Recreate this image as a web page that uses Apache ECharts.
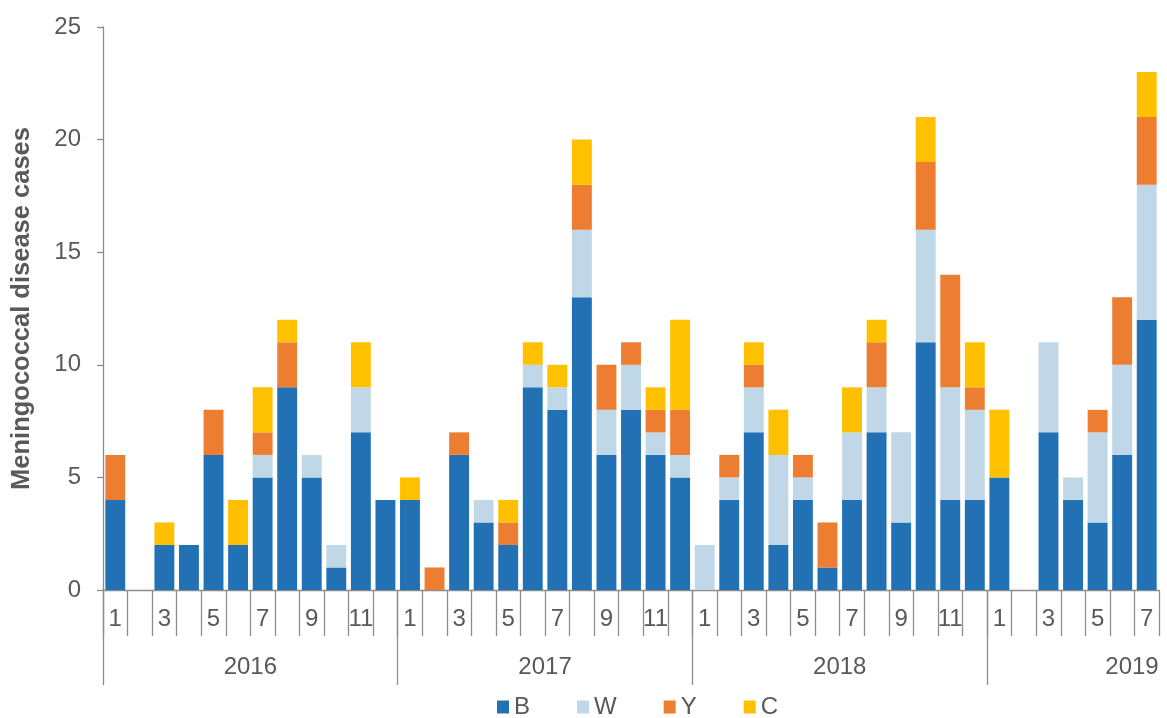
<!DOCTYPE html>
<html>
<head>
<meta charset="utf-8">
<script src="https://cdn.jsdelivr.net/npm/echarts@6/dist/echarts.min.js"></script>
<style>
html,body{margin:0;padding:0;background:#fff;}
#chart{width:1167px;height:718px;}
</style>
</head>
<body>
<div id="chart"></div>
<script>
// ---- data ----
const years = ['2016', '2017', '2018', '2019'];
const monthsPerYear = [12, 12, 12, 7];
const yearBoundaries = [0, 12, 24, 36];
const yearLabelPositions = [6, 18, 30, 41.9];
const seriesNames = ['B', 'W', 'Y', 'C'];
const B = [4,0,2,2,6,2,5,9,5,1,7,4,
           4,0,6,3,2,9,8,13,6,8,6,5,
           0,4,7,2,4,1,4,7,3,11,4,4,
           5,0,7,4,3,6,12];
const W = [0,0,0,0,0,0,1,0,1,1,2,0,
           0,0,0,1,0,1,1,3,2,2,1,1,
           2,1,2,4,1,0,3,2,4,5,5,4,
           0,0,4,1,4,4,6];
const Y = [2,0,0,0,2,0,1,2,0,0,0,0,
           0,1,1,0,1,0,0,2,2,1,1,2,
           0,1,1,0,1,2,0,2,0,3,5,1,
           0,0,0,0,1,3,3];
const C = [0,0,1,0,0,2,2,1,0,0,2,0,
           1,0,0,0,1,1,1,2,0,0,1,4,
           0,0,1,2,0,0,2,1,0,2,0,2,
           3,0,0,0,0,0,2];
const yTicks = [0, 5, 10, 15, 20, 25];

// ---- build ----
const categories = [];
years.forEach((y, i) => {
  for (let m = 1; m <= monthsPerYear[i]; m++) categories.push(y + '-' + m);
});
const totalMonths = categories.length;
const colors = ['#2271B5', '#BFD7E7', '#ED7D31', '#FFC000'];
const values = [B, W, Y, C];
const font = '"Liberation Sans", Arial, sans-serif';
const grey = '#595959';
const lineGrey = '#8c8c8c';
const fs = 24;

const chart = echarts.init(document.getElementById('chart'), null, {renderer: 'canvas'});
chart.setOption({
  animation: false,
  textStyle: {fontFamily: font},
  grid: {left: 103, right: 8, top: 27, bottom: 128, containLabel: false},
  legend: {
    data: seriesNames,
    left: 497, top: 695, padding: 0,
    itemWidth: 12, itemHeight: 13, itemGap: 47,
    icon: 'rect',
    textStyle: {fontSize: fs, color: grey, fontFamily: font}
  },
  xAxis: [
    {
      type: 'category',
      data: categories,
      position: 'bottom',
      axisLine: {show: true, lineStyle: {color: lineGrey, width: 1.3}},
      axisTick: {show: true, interval: 0, length: 46, lineStyle: {color: lineGrey, width: 1.3}},
      axisLabel: {
        interval: 1, margin: 17, fontSize: fs, color: grey, fontFamily: font,
        formatter: v => v.split('-')[1]
      },
      splitLine: {show: false}
    },
    {
      type: 'value',
      min: 0, max: totalMonths,
      position: 'bottom',
      axisLine: {show: false},
      axisTick: {show: true, length: 95, customValues: yearBoundaries, lineStyle: {color: lineGrey, width: 1.3}},
      axisLabel: {
        show: true, margin: 65, fontSize: fs, color: grey, fontFamily: font,
        customValues: yearLabelPositions,
        formatter: v => years[yearLabelPositions.indexOf(v)]
      },
      splitLine: {show: false}
    }
  ],
  yAxis: {
    type: 'value',
    min: 0, max: 25, interval: 5,
    name: 'Meningococcal disease cases',
    nameLocation: 'middle',
    nameGap: 68,
    nameTextStyle: {fontSize: 25.5, fontWeight: 'bold', color: grey, fontFamily: font},
    axisLine: {show: true, lineStyle: {color: lineGrey, width: 1.3}},
    axisTick: {show: true, length: 6, lineStyle: {color: lineGrey, width: 1.3}},
    axisLabel: {fontSize: fs, color: grey, margin: 22, fontFamily: font,
      formatter: v => yTicks.includes(v) ? String(v) : ''},
    splitLine: {show: false}
  },
  series: seriesNames.map((n, i) => ({
    name: n,
    type: 'bar',
    stack: 'total',
    xAxisIndex: 0,
    barCategoryGap: '19%',
    data: values[i],
    itemStyle: {color: colors[i]}
  }))
});
</script>
</body>
</html>
